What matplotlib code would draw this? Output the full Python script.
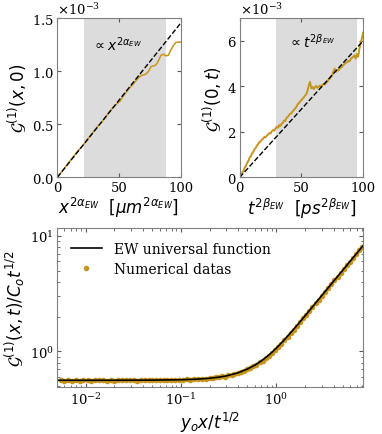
import matplotlib
matplotlib.use("Agg")
import matplotlib.pyplot as plt
import numpy as np

plt.rcParams['font.family'] = 'DejaVu Serif'
plt.rcParams['mathtext.fontset'] = 'dejavusans'
plt.rcParams['xtick.labelsize'] = 9.5
plt.rcParams['ytick.labelsize'] = 9.5

gold = '#c8941c'

# --- top left: G(x,0) vs x^(2 alpha) ---
x_space = [0, 3, 6, 9, 12, 15, 18, 21, 24, 27, 30, 33, 36, 39, 42, 45, 48, 51, 54, 57,
           60, 63, 66, 68, 70, 72, 74, 76, 78, 80, 82, 84, 86, 88, 90, 92, 94, 96, 98, 100]
g_space = [0, 0.045, 0.09, 0.135, 0.18, 0.225, 0.265, 0.305, 0.35, 0.395, 0.44, 0.485,
           0.52, 0.565, 0.615, 0.655, 0.69, 0.72, 0.775, 0.82, 0.86, 0.90, 0.94, 0.96,
           0.965, 0.975, 1.0, 1.045, 1.05, 1.06, 1.10, 1.15, 1.16, 1.145, 1.15, 1.20,
           1.24, 1.27, 1.275, 1.275]
fit_space_x = [0, 100]
fit_space_y = [0, 1.453]
span_space = (21.9, 88.1)

# --- top right: G(0,t) vs t^(2 beta) ---
t_time = list(range(0, 101))
g_time = [0.00, 0.08, 0.20, 0.27, 0.42, 0.50, 0.64, 0.72, 0.86, 0.92,
          1.05, 1.12, 1.24, 1.30, 1.40, 1.47, 1.55, 1.58, 1.66, 1.70,
          1.78, 1.76, 1.84, 1.88, 1.95, 1.93, 2.02, 2.08, 2.05, 2.14,
          2.22, 2.18, 2.30, 2.26, 2.36, 2.40, 2.50, 2.48, 2.62, 2.66,
          2.74, 2.80, 2.82, 2.92, 2.96, 3.04, 3.10, 3.22, 3.26, 3.34,
          3.40, 3.46, 3.52, 3.60, 3.66, 3.82, 4.05, 4.20, 3.92, 3.98,
          3.88, 3.96, 4.02, 3.94, 3.98, 4.04, 3.96, 4.06, 4.10, 4.08,
          4.16, 4.20, 4.30, 4.34, 4.42, 4.50, 4.66, 4.78, 4.64, 4.72,
          4.70, 4.78, 4.82, 4.86, 4.94, 4.98, 5.04, 5.06, 5.12, 5.10,
          5.20, 5.26, 5.30, 5.36, 5.22, 5.42, 5.30, 5.66, 5.90, 6.10,
          6.36]
fit_time_x = [0, 100]
fit_time_y = [0, 6.0]
span_time = (29.4, 94.9)

# --- bottom: scaling collapse ---
ew_u = [0.005, 0.01, 0.02, 0.05, 0.1, 0.15, 0.2, 0.25, 0.3, 0.4, 0.5, 0.6, 0.7,
        0.8, 0.9, 1.0, 1.2, 1.4, 1.7, 2.0, 2.5, 3.0, 4.0, 5.0, 6.5, 8.2]
ew_f = [0.564, 0.564, 0.5645, 0.566, 0.570, 0.577, 0.587, 0.600, 0.615, 0.655,
        0.706, 0.763, 0.830, 0.903, 0.982, 1.066, 1.245, 1.435, 1.725, 2.025,
        2.53, 3.035, 4.04, 5.04, 6.54, 8.24]

num_u = [0.0055, 0.006, 0.0066, 0.0072, 0.0079, 0.0087, 0.0095, 0.0105, 0.0115, 0.0126,
         0.0138, 0.0152, 0.0167, 0.0183, 0.02, 0.022, 0.024, 0.0265, 0.029, 0.032,
         0.035, 0.038, 0.042, 0.046, 0.05, 0.055, 0.06, 0.066, 0.072, 0.079,
         0.087, 0.095, 0.105, 0.115, 0.126, 0.138, 0.152, 0.167, 0.183,
         0.2, 0.215, 0.232, 0.25, 0.27, 0.29, 0.315, 0.34, 0.365, 0.395,
         0.425, 0.46, 0.495, 0.535, 0.575, 0.62, 0.67, 0.72, 0.78, 0.84,
         0.9, 0.97, 1.05, 1.13, 1.22, 1.32, 1.42, 1.53, 1.65, 1.78,
         1.92, 2.07, 2.23, 2.4, 2.6, 2.8, 3.0, 3.25, 3.5, 3.78,
         4.07, 4.4, 4.75, 5.1, 5.5, 5.95, 6.4, 6.9, 7.45, 8.0]
num_f = [0.567, 0.559, 0.570, 0.561, 0.566, 0.558, 0.571, 0.563, 0.560, 0.568,
         0.562, 0.569, 0.561, 0.566, 0.559, 0.567, 0.563, 0.570, 0.562, 0.565,
         0.560, 0.568, 0.564, 0.569, 0.562, 0.566, 0.570, 0.564, 0.568, 0.571,
         0.566, 0.572, 0.569, 0.575, 0.572, 0.578, 0.576, 0.582, 0.581,
         0.592, 0.590, 0.600, 0.598, 0.612, 0.608, 0.626, 0.628, 0.645, 0.650,
         0.668, 0.676, 0.705, 0.716, 0.748, 0.768, 0.808, 0.834, 0.882, 0.918,
         0.975, 1.030, 1.100, 1.160, 1.250, 1.335, 1.440, 1.540, 1.670, 1.790,
         1.940, 2.080, 2.250, 2.410, 2.620, 2.810, 3.030, 3.260, 3.530, 3.790,
         4.110, 4.420, 4.790, 5.120, 5.540, 5.980, 6.450, 6.930, 7.500, 8.050]

fig = plt.figure(figsize=(3.82, 4.35), dpi=100)
ax1 = fig.add_axes([0.150, 0.590, 0.323, 0.366])
ax2 = fig.add_axes([0.6275, 0.590, 0.323, 0.366])
ax3 = fig.add_axes([0.150, 0.107, 0.801, 0.366])


def style(ax):
    ax.tick_params(direction='in', which='both', top=True, right=True,
                   length=3, color='0.35', pad=2.5)
    ax.tick_params(which='minor', length=1.8)
    for s in ax.spines.values():
        s.set_color('0.5')


# top left
ax1.axvspan(*span_space, color='#dcdcdc', lw=0)
ax1.plot(x_space, np.array(g_space) * 1e-3, color=gold, lw=1.1)
ax1.plot(fit_space_x, np.array(fit_space_y) * 1e-3, 'k--', lw=1)
ax1.set_xlim(0, 100)
ax1.set_ylim(0, 1.5e-3)
ax1.set_yticks([0, 0.5e-3, 1.0e-3, 1.5e-3])
ax1.ticklabel_format(axis='y', style='sci', scilimits=(0, 0), useMathText=True)
ax1.text(27.9, 1.255e-3, r'$\propto x^{2\alpha_{EW}}$', fontsize=10, va='center')
ax1.set_xlabel(r'$x^{2\alpha_{EW}}$  $[\mu m^{2\alpha_{EW}}]$', fontsize=12, labelpad=1)
ax1.set_ylabel(r'$\mathcal{G}^{(1)}(x,0)$', fontsize=12, labelpad=2)
style(ax1)

# top right
ax2.axvspan(*span_time, color='#dcdcdc', lw=0)
ax2.plot(t_time, np.array(g_time) * 1e-3, color=gold, lw=1.4)
ax2.plot(fit_time_x, np.array(fit_time_y) * 1e-3, 'k--', lw=1)
ax2.set_xlim(0, 100)
ax2.set_ylim(0, 7e-3)
ax2.set_yticks([0, 2e-3, 4e-3, 6e-3])
ax2.ticklabel_format(axis='y', style='sci', scilimits=(0, 0), useMathText=True)
ax2.text(38.9, 6.0e-3, r'$\propto t^{2\beta_{EW}}$', fontsize=10, va='center')
ax2.set_xlabel(r'$t^{2\beta_{EW}}$  $[ps^{2\beta_{EW}}]$', fontsize=12, labelpad=1)
ax2.set_ylabel(r'$\mathcal{G}^{(1)}(0,t)$', fontsize=12, labelpad=2)
style(ax2)

# bottom
ax3.plot(num_u, num_f, 'o', color=gold, ms=4, mec='none', label='Numerical datas')
ax3.plot(ew_u, ew_f, 'k-', lw=1.2, label='EW universal function')
ax3.set_xscale('log')
ax3.set_yscale('log')
ax3.set_xlim(5.06e-3, 8.2)
ax3.set_ylim(0.489, 11.6)
h, l = ax3.get_legend_handles_labels()
ax3.legend(h[::-1], l[::-1], loc='upper left', frameon=False, fontsize=10,
           handlelength=2.2, handletextpad=0.9, borderaxespad=0.6, labelspacing=0.4)
ax3.set_xlabel(r'$y_o x/t^{1/2}$', fontsize=12, labelpad=2)
ax3.set_ylabel(r'$\mathcal{G}^{(1)}(x,t)/C_o t^{1/2}$', fontsize=12, labelpad=2)
style(ax3)

fig.savefig('out.png', dpi=100)
